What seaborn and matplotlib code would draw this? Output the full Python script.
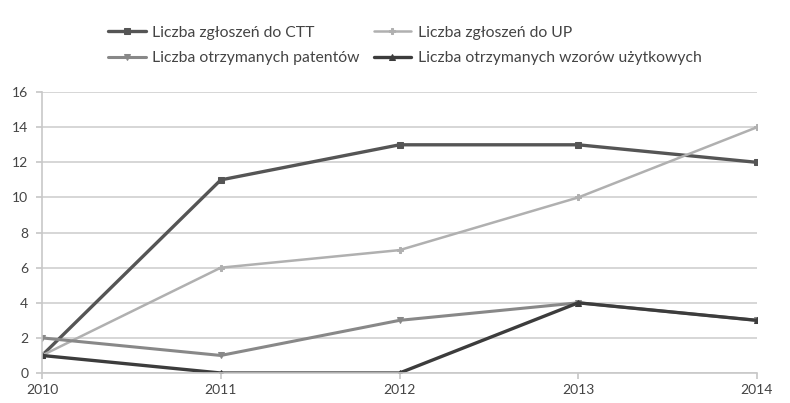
import matplotlib
matplotlib.use("Agg")
import matplotlib.pyplot as plt
import seaborn as sns
import pandas as pd

years = [2010, 2011, 2012, 2013, 2014]
ctt = [1, 11, 13, 13, 12]
up = [1, 6, 7, 10, 14]
patents = [2, 1, 3, 4, 3]
utility = [1, 0, 0, 4, 3]

names = ["Liczba zgłoszeń do CTT", "Liczba zgłoszeń do UP",
         "Liczba otrzymanych patentów", "Liczba otrzymanych wzorów użytkowych"]
yticks = [0, 2, 4, 6, 8, 10, 12, 14, 16]

sns.set_theme(style="white")
plt.rcParams['font.family'] = ['Lato', 'DejaVu Sans']

fig = plt.figure(figsize=(7.9, 4.03), dpi=100)
ax = fig.add_axes([0.0532, 0.0744, 0.905, 0.697])

styles = [
    (ctt, names[0], "#555555", "s", 2.4, 5),
    (up, names[1], "#b0b0b0", "P", 1.8, 4),
    (patents, names[2], "#888888", "v", 2.2, 5),
    (utility, names[3], "#3c3c3c", "^", 2.4, 5),
]
for vals, name, col, mk, lw, ms in styles:
    df = pd.DataFrame({"year": years, "value": vals})
    sns.lineplot(data=df, x="year", y="value", ax=ax, color=col, marker=mk,
                 linewidth=lw, markersize=ms, markeredgecolor=col, label=name,
                 legend=False)
h, l = ax.get_legend_handles_labels()
hd = dict(zip(l, h))
order = [names[0], names[2], names[1], names[3]]
fig.legend([hd[n] for n in order], order, ncol=2, loc="center left",
           bbox_to_anchor=(108 / 790, 1 - 45.5 / 403), frameon=False, fontsize=11.3,
           handlelength=2.4, handletextpad=0.4, columnspacing=0.9,
           labelspacing=0.72, borderpad=0, borderaxespad=0,
           labelcolor="#444444")

ax.set_xlim(2010, 2014)
ax.set_ylim(0, 16)
ax.set_xticks(years)
ax.set_xticklabels([str(y) for y in years])
ax.set_yticks(yticks)
ax.set_xlabel("")
ax.set_ylabel("")
ax.grid(axis="y", color="#cfcfcf", linewidth=1.2)
ax.set_axisbelow(True)
for s in ["top", "right"]:
    ax.spines[s].set_visible(False)
ax.spines["left"].set_color("#c8c8c8")
ax.spines["bottom"].set_color("#c8c8c8")
ax.spines["left"].set_linewidth(1.2)
ax.spines["bottom"].set_linewidth(1.2)
ax.tick_params(axis="both", which="both", direction="out", length=4,
               color="#c8c8c8", labelsize=10, labelcolor="#444444", bottom=True, left=True)
ax.tick_params(axis="x", pad=4)
ax.tick_params(axis="y", pad=6)

fig.savefig("out.png", dpi=100, facecolor="white")
